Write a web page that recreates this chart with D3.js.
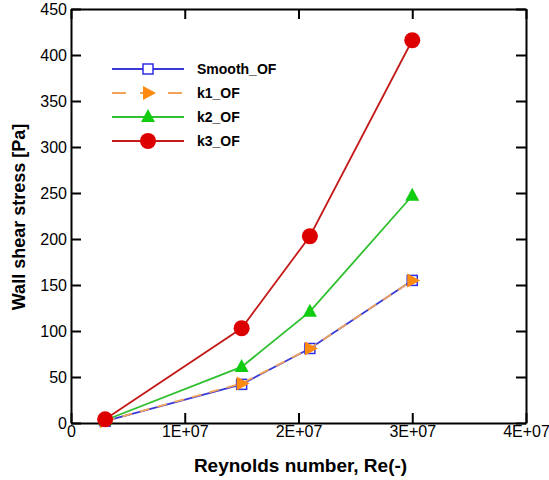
<!DOCTYPE html>
<html>
<head>
<meta charset="utf-8">
<script src="https://cdn.jsdelivr.net/npm/d3@7"></script>
<style>
  body { margin: 0; background: #fff; }
  text { font-family: "Liberation Sans", Arial, sans-serif; }
</style>
</head>
<body>
<div id="chart"></div>
<script>
// Data
const reynolds = [3e6, 1.5e7, 2.1e7, 3e7];
const smoothOF = [2, 42, 81, 155];
const k1OF = [2, 43, 81, 155];
const k2OF = [3, 61, 121, 247];
const k3OF = [4, 103, 203, 416];
const seriesNames = ["Smooth_OF", "k1_OF", "k2_OF", "k3_OF"];
const xTicks = [0, 1e7, 2e7, 3e7, 4e7];
const xTickLabels = ["0", "1E+07", "2E+07", "3E+07", "4E+07"];
const yTicks = [0, 50, 100, 150, 200, 250, 300, 350, 400, 450];

const W = 549, H = 480;
const margin = { top: 9, right: 23, bottom: 57, left: 71 },
      width = W - margin.left - margin.right,
      height = H - margin.top - margin.bottom;

const svg = d3.select("#chart")
    .append("svg")
    .attr("width", W)
    .attr("height", H);

const g = svg.append("g")
    .attr("transform", `translate(${margin.left},${margin.top})`);

const x = d3.scaleLinear().domain([0, 4e7]).range([0, width]);
const y = d3.scaleLinear().domain([0, 450]).range([height, 0]);

// Styles for each series
const styles = {
    "Smooth_OF": { line: "#3a3ad6", dash: null, marker: "square" },
    "k1_OF": { line: "#f2a45a", dash: "10,8", marker: "triRight" },
    "k2_OF": { line: "#2fbf2f", dash: null, marker: "triUp" },
    "k3_OF": { line: "#c41a1a", dash: null, marker: "circle" }
};
const values = { "Smooth_OF": smoothOF, "k1_OF": k1OF, "k2_OF": k2OF, "k3_OF": k3OF };

// Axes: ticks pointing inward on all four sides
const tickFmt = (d, i) => xTickLabels[i];
g.append("g")
    .attr("class", "axis")
    .attr("transform", `translate(0,${height})`)
    .call(d3.axisBottom(x).tickValues(xTicks).tickFormat(tickFmt).tickSizeInner(-10).tickSizeOuter(0).tickPadding(3));
g.append("g")
    .attr("class", "axis")
    .call(d3.axisTop(x).tickValues(xTicks).tickFormat("").tickSizeInner(-10).tickSizeOuter(0));
g.append("g")
    .attr("class", "axis")
    .attr("transform", `translate(${width},0)`)
    .call(d3.axisRight(y).tickValues(yTicks).tickFormat("").tickSizeInner(-10).tickSizeOuter(0));
g.append("g")
    .attr("class", "axis")
    .call(d3.axisLeft(y).tickValues(yTicks).tickSizeInner(-10).tickSizeOuter(0).tickPadding(4));

g.selectAll(".axis path, .axis line")
    .attr("stroke", "#000")
    .attr("stroke-width", 2);
g.selectAll(".axis text")
    .attr("fill", "#000")
    .style("font-size", "16px");

// Axis titles
svg.append("text")
    .attr("x", margin.left + width / 2 + 2)
    .attr("y", H - 8)
    .attr("text-anchor", "middle")
    .style("font-size", "19px")
    .style("font-weight", "bold")
    .text("Reynolds number, Re(-)");

svg.append("text")
    .attr("transform", "rotate(-90)")
    .attr("x", -217)
    .attr("y", 25)
    .attr("text-anchor", "middle")
    .style("font-size", "18px")
    .style("font-weight", "bold")
    .text("Wall shear stress [Pa]");

// Marker drawing helper
function drawMarker(sel, type, cx, cy) {
    if (type === "square") {
        sel.append("rect")
            .attr("x", cx - 5).attr("y", cy - 5)
            .attr("width", 10).attr("height", 10)
            .attr("fill", "#fff")
            .attr("stroke", "#2e2ee6")
            .attr("stroke-width", 1.5);
    } else if (type === "triRight") {
        sel.append("path")
            .attr("d", `M${cx - 5},${cy - 7}L${cx + 8},${cy}L${cx - 5},${cy + 7}Z`)
            .attr("fill", "#ff8a10");
    } else if (type === "triUp") {
        sel.append("path")
            .attr("d", `M${cx},${cy - 8}L${cx + 7},${cy + 5}L${cx - 7},${cy + 5}Z`)
            .attr("fill", "#11cc11");
    } else if (type === "circle") {
        sel.append("circle")
            .attr("cx", cx).attr("cy", cy).attr("r", 8)
            .attr("fill", "#dd0000");
    }
}

const line = d3.line()
    .x((d, i) => x(reynolds[i]))
    .y(d => y(d));

// Series lines and markers
seriesNames.forEach(name => {
    const s = styles[name];
    const sg = g.append("g");
    sg.append("path")
        .datum(values[name])
        .attr("fill", "none")
        .attr("stroke", s.line)
        .attr("stroke-width", 1.8)
        .attr("stroke-dasharray", s.dash)
        .attr("d", line);
    values[name].forEach((v, i) => drawMarker(sg, s.marker, x(reynolds[i]), y(v)));
});

// Legend
const legend = svg.append("g");
seriesNames.forEach((name, i) => {
    const s = styles[name];
    const ly = 69 + i * 24;
    legend.append("line")
        .attr("x1", 112).attr("x2", 184)
        .attr("y1", ly).attr("y2", ly)
        .attr("stroke", s.line)
        .attr("stroke-width", 1.8)
        .attr("stroke-dasharray", s.dash ? "14,14" : null);
    drawMarker(legend, s.marker, 148, ly);
    legend.append("text")
        .attr("x", 197)
        .attr("y", ly + 5)
        .style("font-size", "14px")
        .style("font-weight", "bold")
        .text(name);
});
</script>
</body>
</html>
